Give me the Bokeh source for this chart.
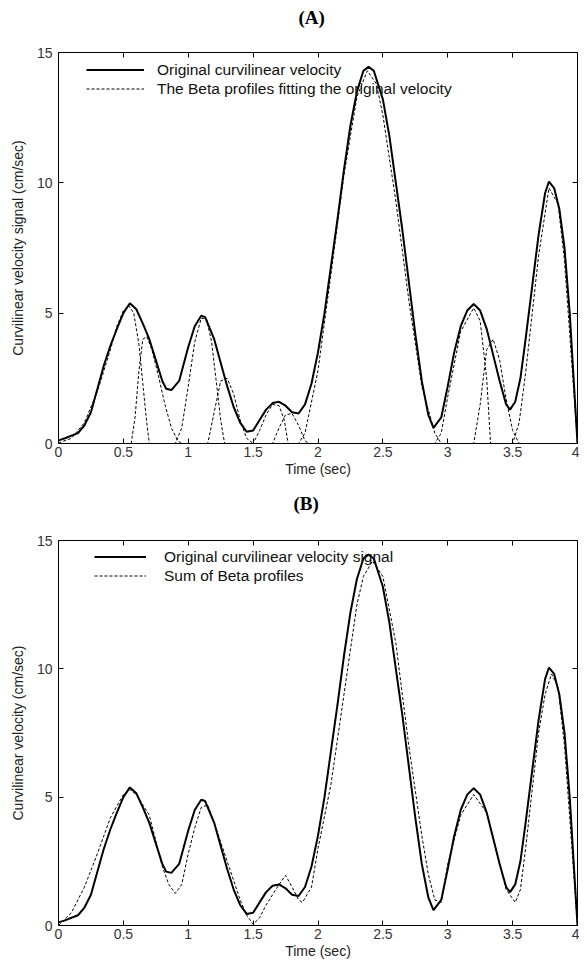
from bokeh.plotting import figure
from bokeh.layouts import column
from bokeh.models import (Legend, LegendItem, LinearAxis, FixedTicker, Title,
                          CustomLabelingPolicy)
from bokeh.embed import file_html
from bokeh.resources import INLINE

# ---------------- data ----------------
# original curvilinear velocity (cm/sec) vs time (sec)
orig_t = [0.0, 0.05, 0.1, 0.15, 0.2, 0.25, 0.3, 0.35, 0.4, 0.45, 0.5, 0.55, 0.6, 0.65, 0.7,
          0.75, 0.8, 0.83, 0.87, 0.93, 1.0, 1.05, 1.1, 1.13, 1.2, 1.25, 1.3, 1.35, 1.4, 1.45,
          1.5, 1.55, 1.6, 1.65, 1.7, 1.75, 1.8, 1.85, 1.9, 1.95, 2.0, 2.05, 2.1, 2.15, 2.2,
          2.25, 2.3, 2.35, 2.39, 2.43, 2.5, 2.55, 2.6, 2.65, 2.7, 2.75, 2.8, 2.85, 2.89, 2.95,
          3.0, 3.05, 3.1, 3.15, 3.2, 3.25, 3.3, 3.35, 3.4, 3.45, 3.48, 3.52, 3.56, 3.6, 3.65,
          3.7, 3.75, 3.78, 3.82, 3.86, 3.9, 3.94, 3.97, 4.0]
orig_v = [0.12, 0.2, 0.3, 0.4, 0.7, 1.2, 2.1, 3.0, 3.75, 4.4, 5.0, 5.38, 5.15, 4.6, 4.0,
          3.2, 2.4, 2.1, 2.05, 2.4, 3.7, 4.5, 4.9, 4.85, 4.0, 3.1, 2.2, 1.4, 0.8, 0.45,
          0.5, 0.9, 1.3, 1.55, 1.6, 1.45, 1.2, 1.15, 1.5, 2.3, 3.5, 5.0, 6.8, 8.6, 10.5,
          12.2, 13.5, 14.3, 14.45, 14.3, 13.2, 11.8, 10.0, 8.2, 6.2, 4.2, 2.4, 1.1, 0.6, 1.0,
          2.2, 3.5, 4.5, 5.1, 5.35, 5.1, 4.4, 3.4, 2.4, 1.5, 1.3, 1.6, 2.5, 4.0, 6.0,
          8.0, 9.6, 10.05, 9.8, 9.0, 7.5, 5.0, 2.5, 0.0]

# individual Beta profiles (panel A)
beta1_t = [0.0, 0.1, 0.2, 0.3, 0.4, 0.45, 0.5, 0.54, 0.58, 0.62, 0.65, 0.68, 0.7, 0.75]
beta1_v = [0.02, 0.2, 0.8, 2.0, 3.6, 4.5, 5.1, 5.3, 5.0, 3.8, 2.3, 0.8, 0.0, 0.0]
beta2_t = [0.52, 0.56, 0.59, 0.62, 0.65, 0.68, 0.72, 0.77, 0.82, 0.87, 0.92, 0.95, 1.1]
beta2_v = [0.0, 0.0, 1.0, 2.8, 4.0, 4.1, 3.6, 2.6, 1.5, 0.6, 0.1, 0.0, 0.0]
beta3_t = [0.85, 0.9, 0.95, 1.0, 1.05, 1.1, 1.14, 1.18, 1.22, 1.25, 1.28, 1.32]
beta3_v = [0.0, 0.0, 0.6, 2.2, 3.9, 4.8, 4.8, 3.9, 2.2, 0.9, 0.0, 0.0]
beta4_t = [1.1, 1.15, 1.2, 1.25, 1.3, 1.35, 1.4, 1.45, 1.5, 1.6]
beta4_v = [0.0, 0.0, 1.2, 2.4, 2.5, 1.9, 0.9, 0.2, 0.0, 0.0]
beta5_t = [1.45, 1.5, 1.55, 1.6, 1.65, 1.7, 1.74, 1.77, 1.82]
beta5_v = [0.0, 0.0, 0.5, 1.1, 1.5, 1.45, 0.9, 0.0, 0.0]
beta6_t = [1.6, 1.65, 1.7, 1.75, 1.8, 1.85, 1.9, 1.93, 2.0]
beta6_v = [0.0, 0.0, 0.6, 1.1, 1.15, 0.7, 0.1, 0.0, 0.0]
beta7_t = [1.8, 1.85, 1.9, 2.0, 2.1, 2.2, 2.3, 2.38, 2.45, 2.5, 2.6, 2.7, 2.8, 2.9, 2.95, 3.1]
beta7_v = [0.0, 0.0, 0.4, 2.8, 6.5, 10.3, 13.3, 14.3, 13.8, 12.6, 9.3, 5.5, 2.2, 0.4, 0.0, 0.0]
beta8_t = [2.85, 2.9, 2.95, 3.0, 3.1, 3.2, 3.25, 3.3, 3.33, 3.4]
beta8_v = [0.0, 0.0, 0.4, 1.8, 4.3, 5.2, 4.7, 2.5, 0.0, 0.0]
beta9_t = [3.15, 3.2, 3.25, 3.3, 3.35, 3.4, 3.45, 3.5, 3.55, 3.78]
beta9_v = [0.0, 0.0, 1.5, 3.6, 4.0, 3.2, 1.7, 0.5, 0.0, 0.0]
beta10_t = [3.45, 3.5, 3.55, 3.6, 3.7, 3.78, 3.85, 3.9, 3.95, 4.0]
beta10_v = [0.0, 0.0, 0.8, 2.7, 7.2, 9.8, 9.2, 7.0, 3.5, 0.0]

# sum of Beta profiles (panel B)
sum_t = [0.0, 0.1, 0.2, 0.3, 0.4, 0.5, 0.55, 0.6, 0.7, 0.8, 0.85, 0.9, 0.95, 1.0, 1.05,
         1.1, 1.15, 1.2, 1.3, 1.4, 1.45, 1.5, 1.55, 1.6, 1.65, 1.7, 1.75, 1.8, 1.85, 1.88,
         1.95, 2.0, 2.1, 2.2, 2.3, 2.35, 2.42, 2.5, 2.6, 2.7, 2.8, 2.85, 2.9, 2.95, 3.0,
         3.1, 3.2, 3.3, 3.4, 3.45, 3.52, 3.56, 3.6, 3.7, 3.75, 3.8, 3.85, 3.9, 3.95, 4.0]
sum_v = [0.0, 0.5, 1.5, 2.8, 4.2, 5.1, 5.3, 5.1, 4.3, 2.3, 1.6, 1.25, 1.6, 2.8, 3.8,
         4.6, 4.7, 4.0, 2.5, 1.0, 0.4, 0.05, 0.3, 0.8, 1.2, 1.6, 1.95, 1.5, 1.0, 0.9,
         1.5, 3.0, 5.5, 9.0, 12.5, 13.6, 14.2, 13.6, 11.0, 7.0, 3.5, 2.0, 1.0, 0.9, 2.4,
         4.3, 5.1, 4.4, 2.4, 1.4, 0.9, 1.4, 3.0, 7.5, 9.0, 9.8, 9.3, 7.0, 3.5, 0.0]

x_ticks = [0, 0.5, 1, 1.5, 2, 2.5, 3, 3.5, 4]
y_ticks = [0, 5, 10, 15]

FONT = "Liberation Sans"
TICK_COLOR = "#333333"
NO_LABELS = """
for (let i = 0; i < indices.size; i++) { indices.unset(i) }
return indices
"""


def style(p, ylabel):
    for ax in p.xaxis + p.yaxis:
        ax.major_tick_in = 5
        ax.major_tick_out = 0
        ax.minor_tick_in = 0
        ax.minor_tick_out = 0
        ax.axis_line_color = "black"
        ax.major_tick_line_color = "black"
        ax.major_label_text_font = FONT
        ax.major_label_text_font_size = "14px"
        ax.major_label_text_color = TICK_COLOR
        ax.axis_label_text_font = FONT
        ax.axis_label_text_font_style = "normal"
        ax.axis_label_text_color = "#222222"
    p.xaxis[0].ticker = FixedTicker(ticks=x_ticks)
    p.yaxis[0].ticker = FixedTicker(ticks=y_ticks)
    p.xaxis[0].axis_label = "Time (sec)"
    p.xaxis[0].axis_label_text_font_size = "14px"
    p.xaxis[0].major_label_standoff = 3
    p.xaxis[0].axis_label_standoff = 1
    p.yaxis[0].axis_label = ylabel
    p.yaxis[0].axis_label_text_font_size = "14px"
    p.yaxis[0].major_label_standoff = 6
    p.yaxis[0].axis_label_standoff = 8
    top = LinearAxis(ticker=FixedTicker(ticks=x_ticks), major_tick_in=5, major_tick_out=0,
                     minor_tick_in=0, minor_tick_out=0, major_label_text_font_size="0px",
                     major_label_policy=CustomLabelingPolicy(code=NO_LABELS),
                     axis_line_color="black")
    right = LinearAxis(ticker=FixedTicker(ticks=y_ticks), major_tick_in=5, major_tick_out=0,
                       minor_tick_in=0, minor_tick_out=0, major_label_text_font_size="0px",
                       major_label_policy=CustomLabelingPolicy(code=NO_LABELS),
                       axis_line_color="black")
    p.add_layout(top, "above")
    p.add_layout(right, "right")
    p.xgrid.visible = False
    p.ygrid.visible = False
    p.outline_line_color = None
    p.background_fill_color = "white"
    p.border_fill_color = "white"


def make_fig(height, top_b, bottom_b, left_b, label, ylabel, title_standoff, title_offset):
    p = figure(width=579, height=height, x_range=(0, 4), y_range=(0, 15),
               output_backend="svg", toolbar_location=None,
               min_border_left=left_b, min_border_right=2,
               min_border_top=top_b, min_border_bottom=bottom_b)
    # the trailing empty line lifts the panel label above the plot box
    p.title = Title(text=label + "\n ", align="left", vertical_align="top",
                    standoff=title_standoff, offset=title_offset,
                    text_font="Liberation Serif", text_font_size="19px",
                    text_font_style="bold", text_color="black")
    style(p, ylabel)
    frame_h = height - top_b - bottom_b
    return p, frame_h


dash = "3 2"

# ---------------- panel A ----------------
pA, hA = make_fig(481, 52, 38, 53, "(A)", "Curvilinear velocity signal (cm/sec)", 4, 240)
beta_renderers = []
for bt, bv in [(beta1_t, beta1_v), (beta2_t, beta2_v), (beta3_t, beta3_v), (beta4_t, beta4_v),
               (beta5_t, beta5_v), (beta6_t, beta6_v), (beta7_t, beta7_v), (beta8_t, beta8_v),
               (beta9_t, beta9_v), (beta10_t, beta10_v)]:
    r = pA.line(bt, bv, line_color="black", line_width=1, line_dash=dash)
    beta_renderers.append(r)
rA = pA.line(orig_t, orig_v, line_color="black", line_width=2)

legA = Legend(items=[LegendItem(label="Original curvilinear velocity", renderers=[rA]),
                     LegendItem(label="The Beta profiles fitting the original velocity",
                                renderers=[beta_renderers[0]])],
              location=(28, hA - 8 - 38), padding=0, margin=0, spacing=0,
              label_height=19, glyph_height=19,
              glyph_width=58, label_standoff=13, label_text_font=FONT,
              label_text_font_size="15.5px", label_text_color="#111111",
              background_fill_alpha=0, border_line_color=None)
legA.level = "underlay"
pA.add_layout(legA)

# ---------------- panel B ----------------
pB, hB = make_fig(480, 59, 35, 58, "(B)", "Curvilinear velocity (cm/sec)", 8, 235)
rS = pB.line(sum_t, sum_v, line_color="black", line_width=1, line_dash=dash)
rB = pB.line(orig_t, orig_v, line_color="black", line_width=2)
legB = Legend(items=[LegendItem(label="Original curvilinear velocity signal", renderers=[rB]),
                     LegendItem(label="Sum of Beta profiles", renderers=[rS])],
              location=(36, hB - 8 - 38), padding=0, margin=0, spacing=0,
              label_height=19, glyph_height=19,
              glyph_width=52, label_standoff=18, label_text_font=FONT,
              label_text_font_size="15.5px", label_text_color="#111111",
              background_fill_alpha=0, border_line_color=None)
legB.level = "underlay"
pB.add_layout(legB)

layout = column(pA, pB, spacing=0)
open("out.html", "w").write(file_html(layout, INLINE))
